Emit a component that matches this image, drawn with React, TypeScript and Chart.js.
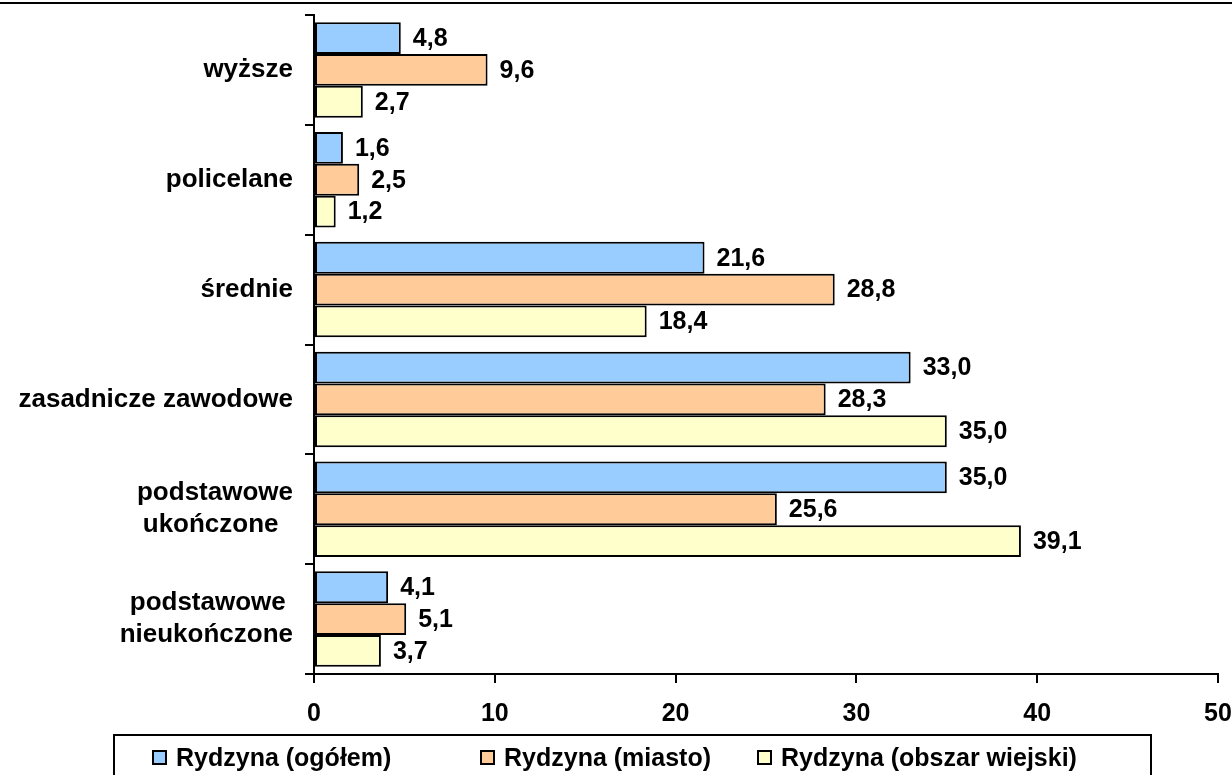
import React, { useEffect, useRef } from "react";
import { Chart, registerables } from "chart.js";

Chart.register(...registerables);

const categories: (string | string[])[] = [
  "wyższe",
  "policelane",
  "średnie",
  "zasadnicze zawodowe",
  ["podstawowe", "ukończone  "],
  ["podstawowe ", "nieukończone"],
];
const seriesNames = ["Rydzyna (ogółem)", "Rydzyna (miasto)", "Rydzyna (obszar wiejski)"];
const ogolem = [4.8, 1.6, 21.6, 33.0, 35.0, 4.1];
const miasto = [9.6, 2.5, 28.8, 28.3, 25.6, 5.1];
const wiejski = [2.7, 1.2, 18.4, 35.0, 39.1, 3.7];
const xTicks = [0, 10, 20, 30, 40, 50];

const colors = ["#99CCFF", "#FFCC99", "#FFFFCC"];
const FONT = "'Liberation Sans', Arial, Helvetica, sans-serif";

const fmt = (v: number) => v.toFixed(1).replace(".", ",");

const valueLabels = {
  id: "valueLabels",
  afterDatasetsDraw(chart: any) {
    const ctx = chart.ctx;
    ctx.save();
    ctx.font = `bold 25px ${FONT}`;
    ctx.fillStyle = "#000";
    ctx.textAlign = "left";
    ctx.textBaseline = "middle";
    chart.data.datasets.forEach((ds: any, i: number) => {
      const meta = chart.getDatasetMeta(i);
      meta.data.forEach((el: any, j: number) => {
        ctx.fillText(fmt(ds.data[j]), el.x + 12, el.y + 1);
      });
    });
    ctx.restore();
  },
};

export default function App() {
  const ref = useRef<HTMLCanvasElement>(null);
  useEffect(() => {
    if (!ref.current) return;
    const chart = new Chart(ref.current, {
      type: "bar",
      data: {
        labels: categories as any,
        datasets: [ogolem, miasto, wiejski].map((d, i) => ({
          label: seriesNames[i],
          data: d,
          backgroundColor: colors[i],
          borderColor: "#000",
          borderWidth: 2,
          borderSkipped: false,
          categoryPercentage: 0.87,
          barPercentage: 1.0,
        })),
      },
      options: {
        indexAxis: "y",
        responsive: false,
        animation: false,
        layout: { padding: { top: 15, right: 14, left: 0, bottom: 35 } },
        plugins: { legend: { display: false }, tooltip: { enabled: false } },
        scales: {
          x: {
            min: 0,
            max: 50,
            afterBuildTicks: (s: any) => {
              s.ticks = xTicks.map((v) => ({ value: v }));
            },
            afterFit: (s: any) => {
              s.height = 66;
              s.paddingLeft = 0;
              s.paddingRight = 0;
            },
            grid: {
              drawOnChartArea: false,
              drawTicks: true,
              tickLength: 9,
              color: "#000",
              lineWidth: 2,
            },
            border: { display: true, color: "#000", width: 2 },
            ticks: {
              padding: 16,
              color: "#000",
              font: { family: FONT, size: 25, weight: "bold" },
            },
          },
          y: {
            afterFit: (s: any) => {
              s.width = 314;
              s.paddingTop = 0;
              s.paddingBottom = 0;
            },
            grid: {
              offset: true,
              drawOnChartArea: false,
              drawTicks: true,
              tickLength: 9,
              color: "#000",
              lineWidth: 2,
            },
            border: { display: true, color: "#000", width: 2 },
            ticks: {
              padding: 12,
              color: "#000",
              font: { family: FONT, size: 26, weight: "bold", lineHeight: 1.23 },
            },
          },
        },
      },
      plugins: [valueLabels],
    });
    return () => chart.destroy();
  }, []);

  const legendLeft = [152, 480, 757];
  return (
    <div style={{ position: "absolute", left: 0, top: 0, width: 1232, height: 775, overflow: "hidden", background: "#fff" }}>
      <div style={{ position: "absolute", left: 0, top: 2, width: 1232, height: 2, background: "#000" }} />
      <canvas ref={ref} width={1232} height={775} style={{ position: "absolute", left: 0, top: 0 }} />
      <div
        style={{
          position: "absolute",
          left: 113,
          top: 734,
          width: 1039,
          height: 50,
          border: "2px solid #000",
          boxSizing: "border-box",
        }}
      />
      {seriesNames.map((n, i) => (
        <div
          key={n}
          style={{
            position: "absolute",
            left: legendLeft[i],
            top: 742,
            height: 30,
            display: "flex",
            alignItems: "center",
            fontFamily: FONT,
            fontWeight: "bold",
            fontSize: 25,
            color: "#000",
            whiteSpace: "nowrap",
          }}
        >
          <span
            style={{
              display: "inline-block",
              width: 15,
              height: 15,
              boxSizing: "border-box",
              border: "2px solid #000",
              background: colors[i],
              marginRight: 9,
            }}
          />
          {n}
        </div>
      ))}
    </div>
  );
}
